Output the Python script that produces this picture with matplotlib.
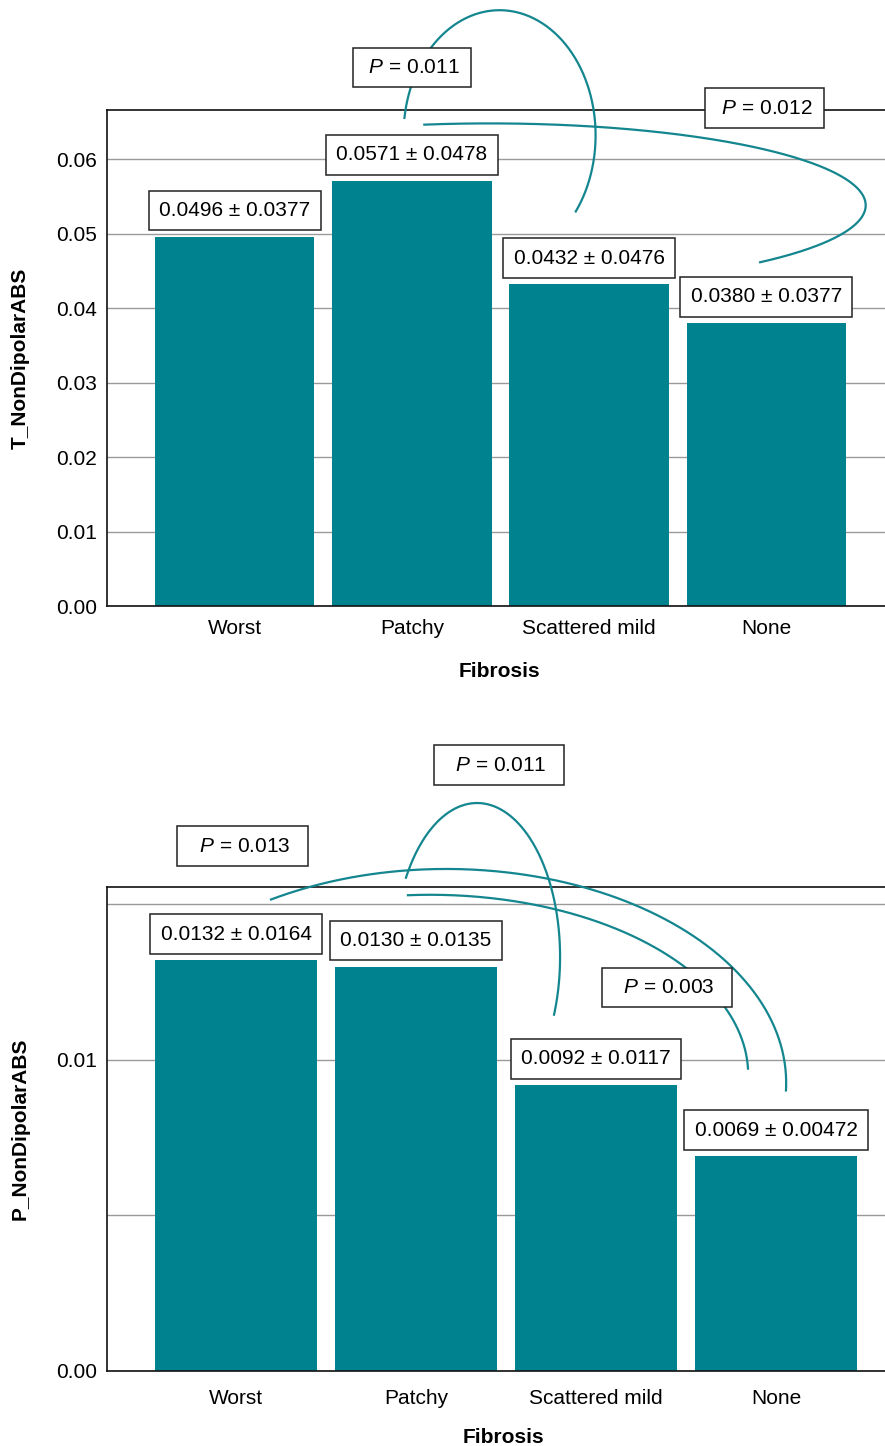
import numpy as np
import matplotlib.pyplot as plt

plt.rcParams['font.family'] = ['Liberation Sans', 'DejaVu Sans']
plt.rcParams['mathtext.fontset'] = 'custom'
plt.rcParams['mathtext.rm'] = 'Liberation Sans'
plt.rcParams['mathtext.it'] = 'Liberation Sans:italic'

# data
categories = ['Worst', 'Patchy', 'Scattered mild', 'None']
t_mean = [0.0496, 0.0571, 0.0432, 0.0380]
t_sd = [0.0377, 0.0478, 0.0476, 0.0377]
p_mean = [0.0132, 0.0130, 0.0092, 0.0069]
p_sd = [0.0164, 0.0135, 0.0117, 0.00472]

# significance arcs: p value, ellipse centre x/y, half width/height, start/end angle, label x/y
t_arcs = [
    ('0.011', 1.495, 0.0632, 0.542, 0.0168, 172, -37.5, 1.00, 0.0723),
    ('0.012', 1.439, 0.0538, 2.122, 0.0110, 100, -44, 2.99, 0.06685),
]
p_arcs = [
    ('0.011', 1.339, 0.01331, 0.461, 0.00495, 149, -22, 1.461, 0.01947),
    ('0.013', 1.167, 0.00926, 1.889, 0.00688, 121, -2, 0.036, 0.01687),
    ('0.003', 1.078, 0.00952, 1.767, 0.00579, 94, 2, 2.392, 0.01233),
]

TEAL = '#00838f'
CURVE = '#14868f'
W, H = 885, 1446


def draw_panel(ax, means, sds, arcs, pspace):
    x = np.arange(len(categories))
    ax.bar(x, means, width=0.9, color=TEAL, zorder=2)
    for xi, m, s in zip(x, means, sds):
        ax.annotate(f'{m:.4f} ± {s:.4g}', (xi, m), xytext=(0, 12),
                    textcoords='offset points', ha='center', va='bottom',
                    fontsize=15, zorder=6, annotation_clip=False,
                    bbox=dict(boxstyle='square,pad=0.5', fc='white',
                              ec='#222222', lw=1.1))
    for pv, cx, cy, a, b, t1, t2, lx, ly in arcs:
        th = np.radians(np.linspace(t1, t2, 300))
        ax.plot(cx + a * np.cos(th), cy + b * np.sin(th), color=CURVE,
                lw=1.6, clip_on=False, zorder=4)
        ax.text(lx, ly, pspace + f'$P$ = {pv}' + pspace, ha='center',
                va='center', fontsize=15, zorder=7, clip_on=False,
                bbox=dict(boxstyle='square,pad=0.5', fc='white',
                          ec='#222222', lw=1.1))
    ax.set_xticks(x)
    ax.set_xticklabels(categories, fontsize=15)
    ax.tick_params(axis='both', which='both', length=0, labelsize=15)
    ax.tick_params(axis='y', pad=7)
    ax.yaxis.grid(True, which='both', color='#9a9a9a', lw=1)
    ax.set_axisbelow(True)
    for side in ['left', 'top', 'bottom']:
        ax.spines[side].set_color('#111111')
        ax.spines[side].set_linewidth(1.2)
    ax.spines['right'].set_visible(False)
    ax.set_xlabel('Fibrosis', fontsize=15, fontweight='bold')


fig = plt.figure(figsize=(W / 100, H / 100), dpi=100)

# top panel
ax1 = fig.add_axes([107 / W, 1 - 606 / H, 1 - 107 / W, (606 - 110) / H])
draw_panel(ax1, t_mean, t_sd, t_arcs, ' ')
ax1.set_xlim(-0.72, 3.67)
ax1.set_ylim(0, 0.0666)
ax1.set_yticks([0, 0.01, 0.02, 0.03, 0.04, 0.05, 0.06])
ax1.set_yticklabels(['0.00', '0.01', '0.02', '0.03', '0.04', '0.05', '0.06'])
ax1.tick_params(axis='x', pad=9)
ax1.xaxis.set_label_coords(0.505, -0.113)
fig.text(20 / W, 1 - 358 / H, 'T_NonDipolarABS', rotation=90, ha='center',
         va='center', fontsize=15, fontweight='bold')

# bottom panel
ax2 = fig.add_axes([107 / W, 1 - 1371 / H, 1 - 107 / W, (1371 - 887) / H])
draw_panel(ax2, p_mean, p_sd, p_arcs, '  ')
ax2.set_xlim(-0.717, 3.605)
ax2.set_ylim(0, 0.01556)
ax2.set_yticks([0, 0.01])
ax2.set_yticklabels(['0.00', '0.01'])
ax2.set_yticks([0.005, 0.015], minor=True)
ax2.tick_params(axis='x', pad=13)
ax2.xaxis.set_label_coords(0.51, -0.118)
fig.text(20 / W, 1 - 1129 / H, 'P_NonDipolarABS', rotation=90, ha='center',
         va='center', fontsize=15, fontweight='bold')

fig.savefig('out.png', dpi=100)
